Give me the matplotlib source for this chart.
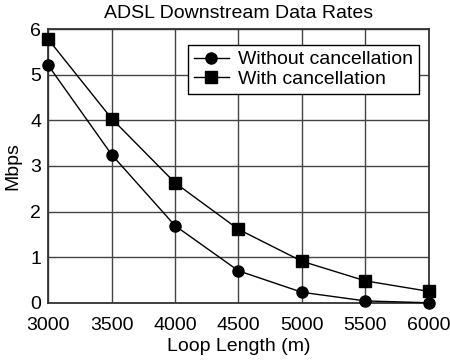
import matplotlib.pyplot as plt

plt.rcParams['font.family'] = ['Liberation Sans', 'DejaVu Sans']

# data
loop_length = [3000, 3500, 4000, 4500, 5000, 5500, 6000]
without_cancel = [5.21, 3.25, 1.69, 0.70, 0.23, 0.04, 0.0]
with_cancel = [5.78, 4.04, 2.63, 1.61, 0.91, 0.48, 0.25]

fig = plt.figure(figsize=(4.5, 3.6), dpi=100)
ax = fig.add_axes([0.107, 0.159, 0.846, 0.760])

ax.plot(loop_length, without_cancel, color='black', lw=1, marker='o',
        markersize=8, label='Without cancellation', clip_on=False, zorder=3)
ax.plot(loop_length, with_cancel, color='black', lw=1, marker='s',
        markersize=8, label='With cancellation', clip_on=False, zorder=3)

ax.set_xlim(3000, 6000)
ax.set_ylim(0, 6)
ax.set_xticks(loop_length)
ax.set_yticks(range(0, 7))
ax.grid(True, color='#444444', lw=1)
ax.tick_params(length=0, labelsize=14)
ax.tick_params(axis='x', pad=10)
ax.tick_params(axis='y', pad=5)
for s in ax.spines.values():
    s.set_linewidth(1.3)
    s.set_color('#333333')

ax.set_title('ADSL Downstream Data Rates', fontsize=14, pad=8)
ax.set_xlabel('Loop Length (m)', fontsize=14, labelpad=3)
ax.set_ylabel('Mbps', fontsize=14, labelpad=6)

leg = ax.legend(loc='upper right', bbox_to_anchor=(0.975, 0.942), fontsize=14,
                fancybox=False, framealpha=1, edgecolor='black',
                handlelength=1.8, borderpad=0.3, labelspacing=0.1,
                handletextpad=0.5, borderaxespad=0)
leg.get_frame().set_linewidth(1)

fig.savefig('out.png', dpi=100)
